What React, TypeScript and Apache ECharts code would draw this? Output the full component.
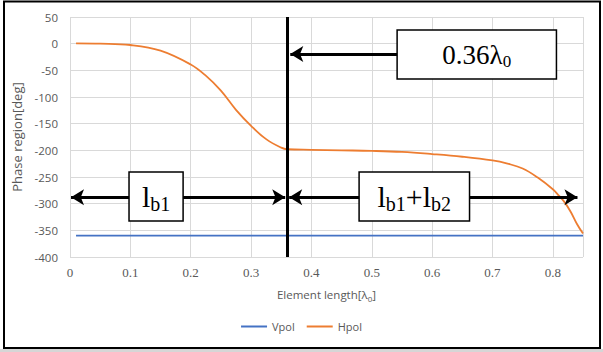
import { useEffect, useRef } from "react";
import * as echarts from "echarts";

// ---- data ----
const vpolX = [0.01, 0.1, 0.2, 0.3, 0.4, 0.5, 0.6, 0.7, 0.8, 0.85];
const vpolY = [-360, -360, -360, -360, -360, -360, -360, -360, -360, -360];

const hpolX = [0.01, 0.05, 0.1, 0.15, 0.2, 0.225, 0.25, 0.275, 0.3, 0.325, 0.35, 0.36, 0.4, 0.45, 0.5, 0.55, 0.6, 0.65, 0.7, 0.725, 0.75, 0.775, 0.8, 0.81, 0.82, 0.83, 0.84, 0.85];
const hpolY = [0.5, 0, -2.5, -13, -39, -60, -88, -124, -154, -179, -195, -198, -199, -200, -201, -203, -207, -212, -219, -225, -234, -251, -273, -285, -298, -316, -338, -356];

// annotation values (data coordinates)
const markerX = 0.36;
const arrowY = -288;
const topArrowY = -19.5;
const lb1Box = [0.0978, -240.6, 0.1874, -332.5];
const lb12Box = [0.479, -240.6, 0.662, -332.5];
const topBox = [0.542, 25.6, 0.806, -66.3];
const leftArrowEnds = [0.0017, 0.3566];
const rightArrowEnds = [0.3632, 0.8408];
const topArrowTip = 0.365;

const AXIS_GRAY = "#595959";
const GRID_GRAY = "#d9d9d9";

export default function App() {
  const ref = useRef<HTMLDivElement>(null);

  useEffect(() => {
    if (!ref.current) return;
    const chart = echarts.init(ref.current, undefined, { renderer: "svg" });

    const serifRich = (m: number, s: number, drop: number) => ({
      m: { fontFamily: "Liberation Serif", fontSize: m, color: "#000", lineHeight: m },
      s: { fontFamily: "Liberation Serif", fontSize: s, color: "#000", lineHeight: m - drop, padding: [drop * 2, 0, 0, 0] },
    });

    const boxStyle = { color: "#fff", borderColor: "#000", borderWidth: 1.5, opacity: 1 };

    const seg = (x1: number, y1: number, x2: number, y2: number, s1: string, s2: string) => [
      { coord: [x1, y1], symbol: s1 },
      { coord: [x2, y2], symbol: s2 },
    ];

    chart.setOption({
      animation: false,
      backgroundColor: "#fff",
      grid: { left: 70, right: 20, top: 17, bottom: 95 },
      xAxis: {
        type: "value",
        min: 0,
        max: 0.85,
        interval: 0.1,
        axisLine: { show: false },
        axisTick: { show: false },
        splitLine: { show: true, lineStyle: { color: GRID_GRAY, width: 1 } },
        axisLabel: {
          color: AXIS_GRAY,
          fontFamily: "Liberation Serif",
          fontSize: 13,
          margin: 9,
          showMaxLabel: false,
        },
        name: "{a|Element length[λ}{s|0}{a|]}",
        nameLocation: "middle",
        nameGap: 30,
        nameTextStyle: {
          rich: {
            a: { fontFamily: "Open Sans", fontSize: 11.5, color: AXIS_GRAY, lineHeight: 14 },
            s: { fontFamily: "Open Sans", fontSize: 8, color: AXIS_GRAY, lineHeight: 10, padding: [8, 0, 0, 0] },
          },
        },
      },
      yAxis: {
        type: "value",
        min: -400,
        max: 50,
        interval: 50,
        axisLine: { show: false },
        axisTick: { show: false },
        splitLine: { show: true, lineStyle: { color: GRID_GRAY, width: 1 } },
        axisLabel: { color: AXIS_GRAY, fontFamily: "Open Sans", fontSize: 11.5, margin: 12 },
        name: "Phase region[deg]",
        nameLocation: "middle",
        nameGap: 45,
        nameTextStyle: { color: AXIS_GRAY, fontFamily: "Open Sans", fontSize: 13 },
      },
      legend: {
        data: ["Vpol", "Hpol"],
        top: 316,
        left: "center",
        icon: "rect",
        itemWidth: 26,
        itemHeight: 2,
        itemGap: 12,
        textStyle: { color: AXIS_GRAY, fontFamily: "Open Sans", fontSize: 11 },
      },
      series: [
        {
          name: "Vpol",
          type: "line",
          symbol: "none",
          data: vpolX.map((x, i) => [x, vpolY[i]]),
          lineStyle: { color: "#4472C4", width: 1.8 },
          itemStyle: { color: "#4472C4" },
        },
        {
          name: "Hpol",
          type: "line",
          symbol: "none",
          smooth: 0.4,
          data: hpolX.map((x, i) => [x, hpolY[i]]),
          lineStyle: { color: "#ED7D31", width: 1.8 },
          itemStyle: { color: "#ED7D31" },
        },
        {
          name: "annot",
          type: "line",
          data: [],
          markArea: {
            silent: true,
            itemStyle: boxStyle,
            emphasis: { disabled: true },
            data: [
              [
                {
                  coord: [lb1Box[0], lb1Box[1]],
                  label: { show: true, position: "inside", formatter: "{m|l}{s|b1}", rich: serifRich(30, 20, 8) },
                },
                { coord: [lb1Box[2], lb1Box[3]] },
              ],
              [
                {
                  coord: [lb12Box[0], lb12Box[1]],
                  label: { show: true, position: "inside", formatter: "{m|l}{s|b1}{m|+l}{s|b2}", rich: serifRich(30, 20, 8) },
                },
                { coord: [lb12Box[2], lb12Box[3]] },
              ],
              [
                {
                  coord: [topBox[0], topBox[1]],
                  label: { show: true, position: "inside", formatter: "{m|0.36λ}{s|0}", rich: serifRich(27, 17, 7) },
                },
                { coord: [topBox[2], topBox[3]] },
              ],
            ],
          },
          markLine: {
            silent: true,
            symbolSize: [12, 13],
            label: { show: false },
            lineStyle: { color: "#000", width: 3, type: "solid" },
            emphasis: { disabled: true },
            data: [
              [
                { xAxis: markerX, yAxis: -400, symbol: "none" },
                { xAxis: markerX, yAxis: 50, symbol: "none" },
              ],
              seg(leftArrowEnds[0], arrowY, lb1Box[0], arrowY, "arrow", "none"),
              seg(lb1Box[2], arrowY, leftArrowEnds[1], arrowY, "none", "arrow"),
              seg(rightArrowEnds[0], arrowY, lb12Box[0], arrowY, "arrow", "none"),
              seg(lb12Box[2], arrowY, rightArrowEnds[1], arrowY, "none", "arrow"),
              seg(topBox[0], topArrowY, topArrowTip, topArrowY, "none", "arrow"),
            ],
          },
        },
      ],
      graphic: [
        {
          type: "rect",
          silent: true,
          z: 100,
          shape: { x: 0, y: 349, width: 603, height: 3 },
          style: { fill: "#d6d6d6" },
        },
        {
          type: "rect",
          silent: true,
          z: 100,
          shape: { x: 4, y: 1.5, width: 596, height: 346.5 },
          style: { fill: "none", stroke: "#000", lineWidth: 2 },
        },
      ],
    });

    return () => chart.dispose();
  }, []);

  return (
    <div
      ref={ref}
      style={{ position: "fixed", left: 0, top: 0, width: 603, height: 352, background: "#fff" }}
    />
  );
}
